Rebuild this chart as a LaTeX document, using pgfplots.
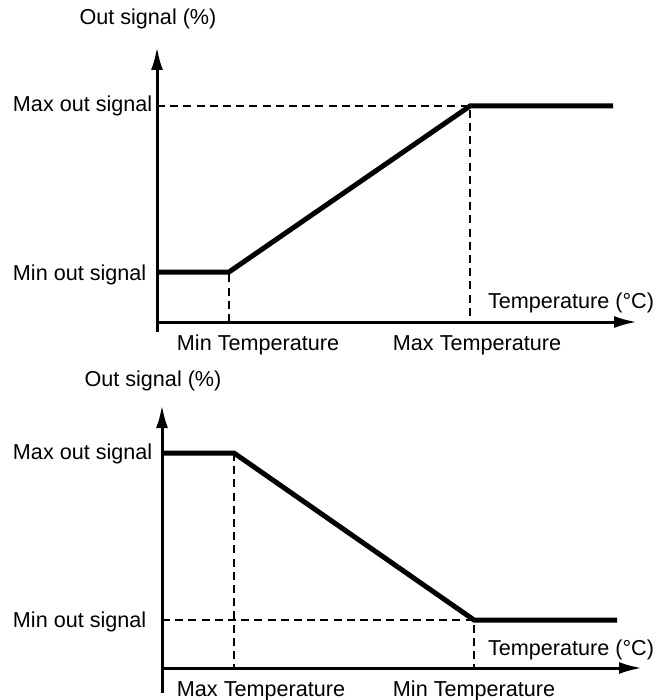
\documentclass[border=0pt]{standalone}
\usepackage{pgfplots}
\pgfplotsset{compat=1.18}
\usetikzlibrary{arrows.meta}
\usepackage{fontspec}
\setmainfont{Liberation Sans}
\begin{document}
\fontsize{10.8}{12}\selectfont
\begin{tikzpicture}[lab/.style={inner sep=0pt, outer sep=0pt, font=\fontsize{10.8}{12}\selectfont}]
\path[use as bounding box] (0,0) rectangle (332.5pt,-350pt);
\pgfplotsset{
  diag/.style={
    x=0.5pt, y=0.5pt,
    axis lines=middle,
    enlargelimits=false,
    xtick=\empty, ytick=\empty,
    clip=false,
    xmin=0, xmax=480,
    axis line style={line width=1.5pt, -{Latex[length=11.5pt,width=6pt]}},
  },
  dash/.style={black, line width=1pt, dash pattern=on 4pt off 2.6pt},
  main/.style={black, line width=2.5pt},
}
% Top diagram
\begin{axis}[diag, ymin=-10, ymax=275, at={(78.5pt,-161pt)}, anchor=origin]
\addplot[dash] coordinates {(72,0) (72,50)};
\addplot[dash] coordinates {(0,216) (313,216) (313,0)};
\addplot[main] coordinates {(0,50) (72,50) (313,216) (456,216)};
\node[lab, anchor=base] at (axis cs:-9,297) {Out signal (\%)};
\node[lab, anchor=base west] at (axis cs:-144,210) {Max out signal};
\node[lab, anchor=base west] at (axis cs:-144,42) {Min out signal};
\node[lab, anchor=base east] at (axis cs:497,14) {Temperature (°C)};
\node[lab, anchor=base] at (axis cs:101,-28) {Min Temperature};
\node[lab, anchor=base] at (axis cs:320,-28) {Max Temperature};
\end{axis}
% Bottom diagram
\begin{axis}[diag, ymin=-25, ymax=263, at={(81pt,-334pt)}, anchor=origin]
\addplot[dash] coordinates {(72,215) (72,0)};
\addplot[dash] coordinates {(0,48) (312,48) (312,0)};
\addplot[main] coordinates {(0,215) (72,215) (312,48) (455,48)};
\node[lab, anchor=base] at (axis cs:-9,282) {Out signal (\%)};
\node[lab, anchor=base west] at (axis cs:-149,209) {Max out signal};
\node[lab, anchor=base west] at (axis cs:-149,41) {Min out signal};
\node[lab, anchor=base east] at (axis cs:492,13) {Temperature (°C)};
\node[lab, anchor=base] at (axis cs:99,-28) {Max Temperature};
\node[lab, anchor=base] at (axis cs:312,-28) {Min Temperature};
\end{axis}
\end{tikzpicture}
\end{document}
